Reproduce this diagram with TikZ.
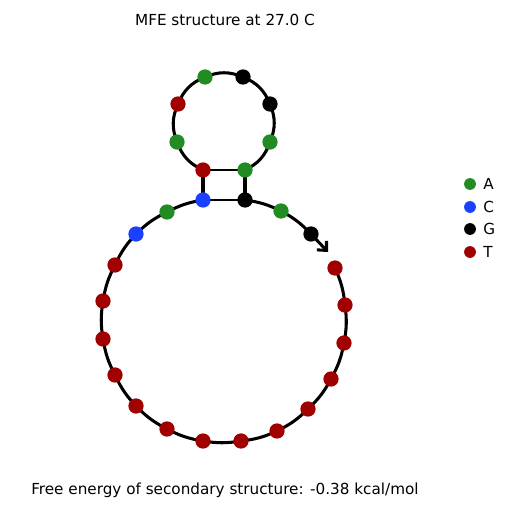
\documentclass[tikz,border=0pt]{standalone}
\usepackage{fontspec}
\setmainfont{DejaVu Sans}
\usetikzlibrary{arrows.meta}
\definecolor{ntA}{RGB}{34,139,34}
\definecolor{ntC}{RGB}{25,65,255}
\definecolor{ntG}{RGB}{0,0,0}
\definecolor{ntT}{RGB}{160,0,0}
\begin{document}
\begin{tikzpicture}[x=0.72bp,y=-0.72bp,
  nt/.style={circle,inner sep=0pt,minimum size=11bp,draw=none},
  bb/.style={line width=2.2bp,black},
  pairline/.style={line width=1.1bp,black},
  lbl/.style={font=\fontsize{11}{13}\selectfont,inner sep=0pt}]
\useasboundingbox (0,0) rectangle (512,512);
% nucleotides
\foreach \i/\x/\y in {1/335/268,2/345/305,3/344/343,4/331/379,
  5/308/409,6/277/431,7/241/441,8/203/441,9/167/429,
  10/136/406,11/115/375,12/103/339,13/103/301,14/115/265,
  15/136/234,16/167/212,17/203/200,18/203/170,19/177/142,
  20/178/104,21/205/77,22/243/77,23/270/104,24/270/142,
  25/245/170,26/245/200,27/281/211,28/311/234}
  \coordinate (c\i) at (\x,\y);
\coordinate (tip) at (328,252);
% backbone: exterior loop
\foreach \a/\b in {1/2,2/3,3/4,4/5,5/6,6/7,7/8,8/9,9/10,10/11,11/12,12/13,13/14,14/15,15/16,16/17,26/27,27/28}
  \draw[bb] (c\a) to[bend left=9] (c\b);
% stem
\draw[bb] (c17) -- (c18);
\draw[bb] (c25) -- (c26);
% hairpin loop
\foreach \a/\b in {18/19,19/20,20/21,21/22,22/23,23/24,24/25}
  \draw[bb] (c\a) to[bend left=22.5] (c\b);
% base pairs
\draw[pairline] (c17) -- (c26);
\draw[pairline] (c18) -- (c25);
% 3' arrow
\draw[bb,-{Straight Barb[length=5bp,width=9.5bp,line width=2.2bp]}] (c28) -- (tip);
% dots
\foreach \i/\c in {1/ntT,2/ntT,3/ntT,4/ntT,5/ntT,6/ntT,7/ntT,8/ntT,9/ntT,10/ntT,
  11/ntT,12/ntT,13/ntT,14/ntT,15/ntC,16/ntA,17/ntC,18/ntT,19/ntA,20/ntT,21/ntA,
  22/ntG,23/ntG,24/ntA,25/ntA,26/ntG,27/ntA,28/ntG}
  \node[nt,fill=\c] (n\i) at (c\i) {};
% title and energy
\node[lbl] (title) at (225,20) {MFE structure at 27.0 C};
\node[lbl,anchor=west] (energy) at (31,490) {Free energy of secondary structure: -0.38 kcal/mol};
% legend
\foreach \k/\yy/\c in {A/184/ntA,C/207/ntC,G/229/ntG,T/252/ntT}{
  \node[nt,fill=\c,minimum size=8.5bp] (leg\k) at (470,\yy) {};
  \node[lbl,anchor=west] (legt\k) at (483,\yy) {\k};
}
\end{tikzpicture}
\end{document}
